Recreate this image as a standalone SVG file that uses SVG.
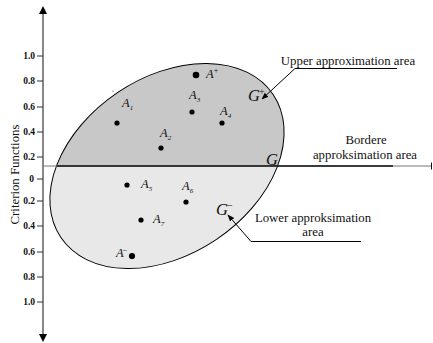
<svg xmlns="http://www.w3.org/2000/svg" width="433" height="343" viewBox="0 0 433 343" font-family="'Liberation Serif', 'Times New Roman', 'DejaVu Serif', serif">
<style>
text{font-family:"Liberation Serif","Times New Roman","DejaVu Serif",serif;fill:#111}
.tick{font-size:9.5px;font-weight:bold;text-anchor:end}
.lbl{font-size:12.5px;font-style:italic}
.sub{font-size:7px;font-style:italic}
.big{font-size:16.5px;font-style:italic}
.cap{font-size:12.8px}
.dot{fill:#000}
</style>
<defs>
<clipPath id="upper"><rect x="0" y="0" width="433" height="166"/></clipPath>
<clipPath id="lower"><rect x="0" y="166" width="433" height="177"/></clipPath>
<marker id="ah" viewBox="0 0 10 10" refX="9" refY="5" markerWidth="7" markerHeight="7" orient="auto" markerUnits="userSpaceOnUse">
<path d="M0,1 L10,5 L0,9 Z" fill="#000"/>
</marker>
</defs>
<rect width="433" height="343" fill="#fff"/>

<g id="region">
<g clip-path="url(#upper)"><ellipse cx="167" cy="166" rx="128" ry="88.6" transform="rotate(-34 167 166)" fill="#c8c8c8"/></g>
<g clip-path="url(#lower)"><ellipse cx="167" cy="166" rx="128" ry="88.6" transform="rotate(-34 167 166)" fill="#e8e8e8"/></g>
<ellipse cx="167" cy="166" rx="128" ry="88.6" transform="rotate(-34 167 166)" fill="none" stroke="#000" stroke-width="1"/>
</g>

<g id="axes">
<line x1="43" y1="12" x2="43" y2="336" stroke="#555" stroke-width="1.4"/>
<path d="M39,14 L43,6 L47,14 Z" fill="#000"/>
<path d="M39,334 L43,342 L47,334 Z" fill="#000"/>
<line x1="43" y1="166" x2="432" y2="166" stroke="#777" stroke-width="1"/>
<line x1="57" y1="166" x2="393" y2="166" stroke="#111" stroke-width="1.5"/>
<line x1="431.5" y1="162.5" x2="431.5" y2="169.5" stroke="#111" stroke-width="1"/>
<g stroke="#333" stroke-width="1">
<line x1="37" y1="56" x2="43" y2="56"/><line x1="37" y1="81" x2="43" y2="81"/>
<line x1="37" y1="107" x2="43" y2="107"/><line x1="37" y1="132" x2="43" y2="132"/>
<line x1="37" y1="157" x2="43" y2="157"/><line x1="37" y1="179" x2="43" y2="179"/>
<line x1="37" y1="201" x2="43" y2="201"/><line x1="37" y1="226" x2="43" y2="226"/>
<line x1="37" y1="252" x2="43" y2="252"/><line x1="37" y1="277" x2="43" y2="277"/>
<line x1="37" y1="302" x2="43" y2="302"/>
</g>
<text class="tick" x="35" y="59">1.0</text>
<text class="tick" x="35" y="84">0.8</text>
<text class="tick" x="35" y="110">0.6</text>
<text class="tick" x="35" y="135">0.4</text>
<text class="tick" x="35" y="160">0.2</text>
<text class="tick" x="34" y="182">0</text>
<text class="tick" x="35" y="204">0.2</text>
<text class="tick" x="35" y="229">0.4</text>
<text class="tick" x="35" y="255">0.6</text>
<text class="tick" x="35" y="280">0.8</text>
<text class="tick" x="35" y="305">1.0</text>
<text class="cap" transform="translate(19,174.5) rotate(-90)" text-anchor="middle">Criterion Functions</text>
</g>

<g id="nodes">
<g id="Aplus"><circle class="dot" cx="196" cy="75" r="3.3"/><text class="lbl" x="206" y="78">A<tspan font-size="8" font-style="normal" dy="-5">+</tspan></text></g>
<g id="A1"><circle class="dot" cx="117" cy="123" r="2.6"/><text class="lbl" x="122" y="107">A<tspan class="sub" dy="3">1</tspan></text></g>
<g id="A2"><circle class="dot" cx="161" cy="148" r="2.6"/><text class="lbl" x="160" y="137">A<tspan class="sub" dy="3">2</tspan></text></g>
<g id="A3"><circle class="dot" cx="192" cy="112" r="2.6"/><text class="lbl" x="189" y="99">A<tspan class="sub" dy="3">3</tspan></text></g>
<g id="A4"><circle class="dot" cx="222" cy="123" r="2.6"/><text class="lbl" x="220" y="115">A<tspan class="sub" dy="3">4</tspan></text></g>
<g id="A5"><circle class="dot" cx="127" cy="185" r="2.6"/><text class="lbl" x="141" y="188">A<tspan class="sub" dy="3">5</tspan></text></g>
<g id="A6"><circle class="dot" cx="186" cy="202" r="2.6"/><text class="lbl" x="182" y="190">A<tspan class="sub" dy="3">6</tspan></text></g>
<g id="A7"><circle class="dot" cx="141" cy="220" r="2.6"/><text class="lbl" x="153" y="223">A<tspan class="sub" dy="3">7</tspan></text></g>
<g id="Aminus"><circle class="dot" cx="132" cy="256" r="3.1"/><text class="lbl" x="116" y="257">A<tspan font-size="8" font-style="normal" dx="-1" dy="-5">–</tspan></text></g>
<circle cx="113" cy="91" r="0.6" fill="#333"/>
<g id="Gplus"><text class="big" x="248" y="101">G<tspan font-size="10" font-style="normal" dx="-1" dy="-6">+</tspan></text></g>
<g id="G"><text class="big" x="266" y="165">G</text></g>
<g id="Gminus"><text class="big" x="216" y="215">G<tspan font-size="10" font-style="normal" dx="-1" dy="-7">–</tspan></text></g>
</g>

<g id="connectors" fill="none" stroke="#000" stroke-width="1">
<polyline points="397,68.5 295,68.5 262,99" marker-end="url(#ah)"/>
<polyline points="361,241.5 251,241.5 228,215" marker-end="url(#ah)"/>
</g>

<g id="captions">
<text class="cap" x="348" y="65" text-anchor="middle">Upper approximation area</text>
<text class="cap" x="366" y="144" text-anchor="middle">Bordere</text>
<text class="cap" x="365" y="159" text-anchor="middle">approksimation area</text>
<text class="cap" x="313" y="222" text-anchor="middle">Lower approksimation</text>
<text class="cap" x="313" y="236" text-anchor="middle">area</text>
</g>
</svg>
